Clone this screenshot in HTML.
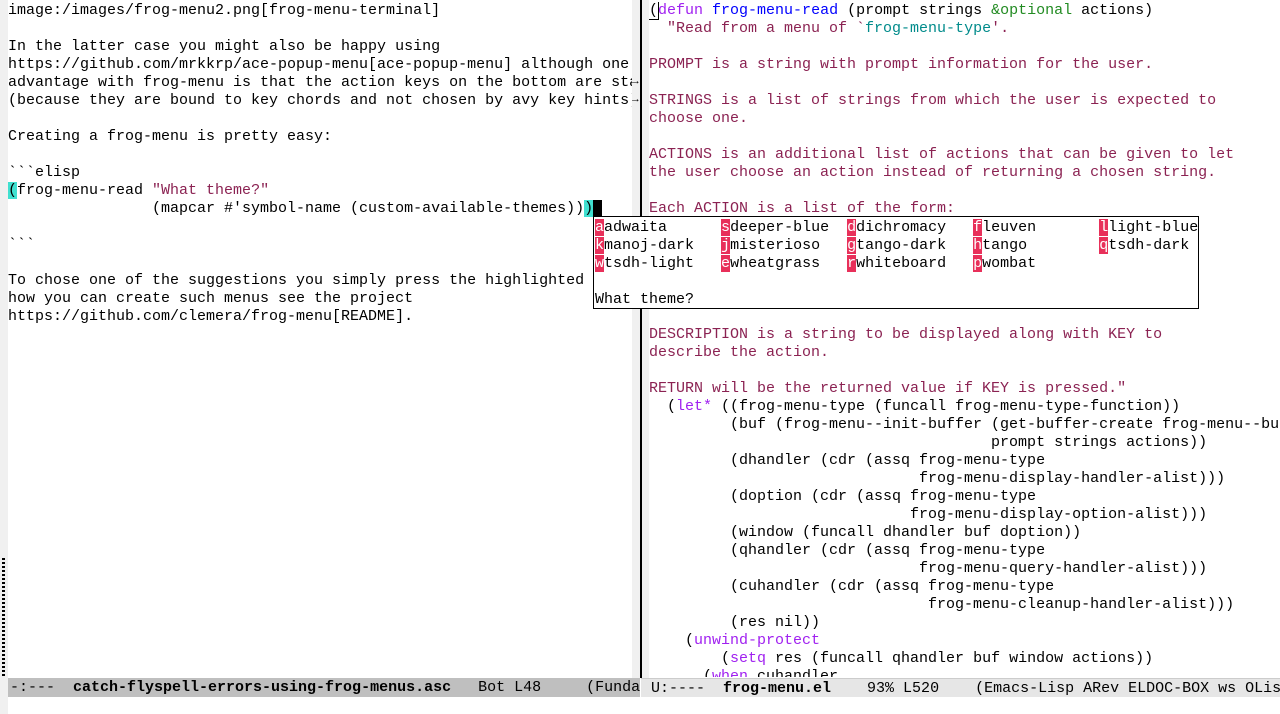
<!DOCTYPE html>
<html><head><meta charset="utf-8"><style>
body{margin:0;width:1280px;height:714px;overflow:hidden;background:#fff;position:relative;font-family:"Liberation Mono","DejaVu Sans Mono",monospace;font-size:15px;}
pre{margin:0;font:inherit;line-height:18px;position:absolute;white-space:pre;overflow:hidden;color:#000;}
.d{color:#8b2252}.k{color:#a020f0}.f{color:#0000ff}.o{color:#228b22}.c{color:#008b8b}
.hl{background:#40e0d0}
.key{background:#e8305a;color:#fff}
.ml{position:absolute;top:678px;height:19px;line-height:20px;white-space:pre;font-size:15px;overflow:hidden}
b{font-weight:bold}
</style></head><body>
<div style="position:absolute;left:0;top:0;width:8px;height:714px;background:#f0f0f0"></div>
<div style="position:absolute;left:2px;top:558px;width:3px;height:119px;background:repeating-linear-gradient(#000 0 2px,transparent 2px 4px)"></div>
<div style="position:absolute;left:632px;top:0;width:9px;height:678px;background:#f0f0f0"></div>
<div style="position:absolute;left:640px;top:0;width:2px;height:678px;background:#000"></div>
<div style="position:absolute;left:642px;top:0;width:7px;height:678px;background:#f2f2f2"></div>
<pre style="left:8px;top:2px;width:624px;height:675px">image:/images/frog-menu2.png[frog-menu-terminal]

In the latter case you might also be happy using
https://github.com/mrkkrp/ace-popup-menu[ace-popup-menu] although one
advantage with frog-menu is that the action keys on the bottom are sta
(because they are bound to key chords and not chosen by avy key hints)

Creating a frog-menu is pretty easy:

&#96;&#96;&#96;elisp
<span class="hl">(</span>frog-menu-read <span class="d">"What theme?"</span>
                (mapcar #'symbol-name (custom-available-themes))<span class="hl">)</span><span style="background:#000"> </span>

&#96;&#96;&#96;

To chose one of the suggestions you simply press the highlighted
how you can create such menus see the project
https://github.com/clemera/frog-menu[README].</pre>
<div style="position:absolute;left:632px;top:77px;font-size:11px;line-height:10px">→</div>
<div style="position:absolute;left:632px;top:95px;font-size:11px;line-height:10px">→</div>
<pre style="left:649px;top:2px;width:631px;height:675px"><span style="outline:1px solid #000">(</span><span class="k">defun</span> <span class="f">frog-menu-read</span> (prompt strings <span class="o">&amp;optional</span> actions)
<span class="d">  "Read from a menu of &#96;</span><span class="c">frog-menu-type</span><span class="d">'.

PROMPT is a string with prompt information for the user.

STRINGS is a list of strings from which the user is expected to
choose one.

ACTIONS is an additional list of actions that can be given to let
the user choose an action instead of returning a chosen string.

Each ACTION is a list of the form:

 (KEY DESCRIPTION RETURN)

KEY is a string to be interpreted as spelled-out keystrokes,
using the same format as for &#96;kbd'.

DESCRIPTION is a string to be displayed along with KEY to
describe the action.

RETURN will be the returned value if KEY is pressed."</span>
  (<span class="k">let*</span> ((frog-menu-type (funcall frog-menu-type-function))
         (buf (frog-menu--init-buffer (get-buffer-create frog-menu--bu
                                      prompt strings actions))
         (dhandler (cdr (assq frog-menu-type
                              frog-menu-display-handler-alist)))
         (doption (cdr (assq frog-menu-type
                             frog-menu-display-option-alist)))
         (window (funcall dhandler buf doption))
         (qhandler (cdr (assq frog-menu-type
                              frog-menu-query-handler-alist)))
         (cuhandler (cdr (assq frog-menu-type
                               frog-menu-cleanup-handler-alist)))
         (res nil))
    (<span class="k">unwind-protect</span>
        (<span class="k">setq</span> res (funcall qhandler buf window actions))
      (<span class="k">when</span> cuhandler</pre>
<pre style="left:593px;top:216px;width:603px;height:89px;border:1px solid #000;background:#fff;padding-left:1px;padding-top:2px"><span class="key">a</span>adwaita      <span class="key">s</span>deeper-blue  <span class="key">d</span>dichromacy   <span class="key">f</span>leuven       <span class="key">l</span>light-blue
<span class="key">k</span>manoj-dark   <span class="key">j</span>misterioso   <span class="key">g</span>tango-dark   <span class="key">h</span>tango        <span class="key">q</span>tsdh-dark
<span class="key">w</span>tsdh-light   <span class="key">e</span>wheatgrass   <span class="key">r</span>whiteboard   <span class="key">p</span>wombat

What theme?</pre>
<div class="ml" style="left:8px;width:632px;background:#bfbfbf;padding-left:2px;box-sizing:border-box">-:---  <b>catch-flyspell-errors-using-frog-menus.asc</b>   Bot L48     (Fundam</div>
<div class="ml" style="left:641px;width:639px;background:#e6e6e6;padding-left:10px;box-sizing:border-box;border-top:1px solid #ccc">U:----  <b>frog-menu.el</b>    93% L520    (Emacs-Lisp ARev ELDOC-BOX ws OLisp</div>
</body></html>
